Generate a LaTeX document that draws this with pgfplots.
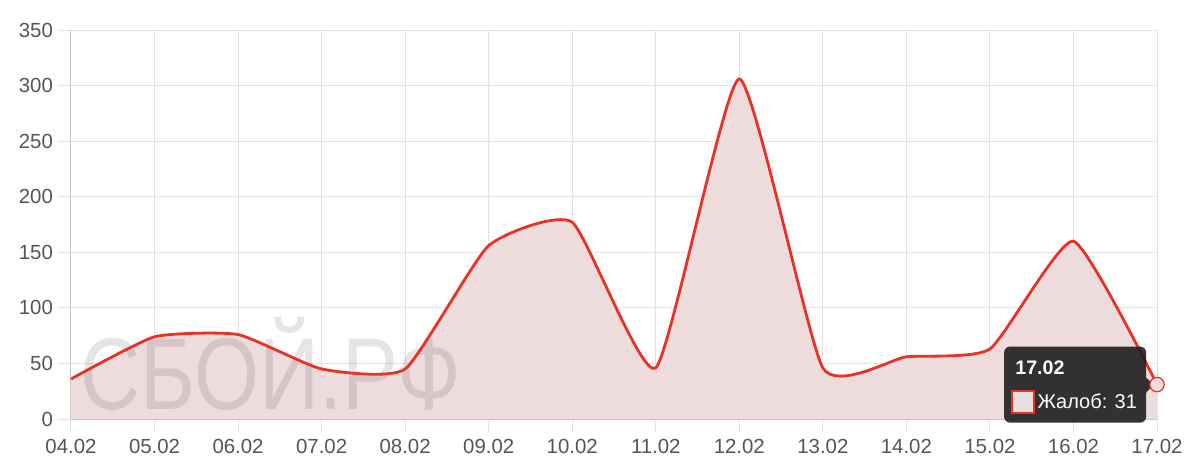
\documentclass[border=0pt]{standalone}
\usepackage{pgfplots}
\pgfplotsset{compat=1.18}
\usepackage{fontspec}
\setmainfont{Liberation Sans}
\definecolor{linec}{RGB}{232,50,38}
\definecolor{fillc}{RGB}{238,220,221}
\definecolor{gridc}{RGB}{226,226,226}
\definecolor{axc}{RGB}{200,200,200}
\definecolor{tickc}{RGB}{85,85,85}
\definecolor{tipc}{RGB}{30,30,30}
\pgfplotstableread{
x y
0 36
1 74
2 76
3 45
4 45
5 156
6 177
7 46
8 306
9 46
10 56
11 63
12 160
13 31
}\datatab
\begin{document}
\begin{tikzpicture}
\begin{axis}[name=ax, scale only axis, width=543pt, height=194.5pt,
 xmin=0, xmax=13, ymin=0, ymax=350,
 axis lines=left, axis line style={draw=axc, line width=0.5pt, -},
 xtick={0,...,13},
 xticklabels={04.02,05.02,06.02,07.02,08.02,09.02,10.02,11.02,12.02,13.02,14.02,15.02,16.02,17.02},
 ytick={0,50,...,350},
 grid=major, major grid style={draw=gridc, line width=0.5pt},
 tick align=outside, major tick length=6.5pt, tick style={draw=gridc, line width=0.5pt},
 ticklabel style={font=\fontsize{10.2}{11}\selectfont, text=tickc},
 yticklabel style={xshift=1pt},
 /pgf/number format/assume math mode=true,
 clip=false,
]
\addplot[draw=none, fill=fillc, smooth, tension=0.3] table[x=x,y=y]{\datatab} \closedcycle;
\node[text=black, text opacity=0.1, font=\fontsize{51}{51}\selectfont, xscale=0.82] at (axis cs:2.39,50) {СБОЙ.РФ};
\addplot[draw=linec, line width=1.4pt, smooth, tension=0.3] table[x=x,y=y]{\datatab};
\addplot[only marks, mark=*, mark size=3.6pt, mark options={draw=linec, fill=fillc, line width=0.6pt}] coordinates {(13,31)};
\fill[tipc, opacity=0.9, rounded corners=3pt] (axis cs:11.17,65.2) rectangle (axis cs:12.87,-3.3);
\fill[tipc, opacity=0.9] (axis cs:12.87,37.2) -- (axis cs:12.96,30.9) -- (axis cs:12.87,23.7) -- cycle;
\node[anchor=base west, inner sep=0pt, text=white, font=\bfseries\fontsize{9.8}{10}\selectfont] at (axis cs:11.30,40) {17.02};
\draw[linec, line width=1pt, fill={rgb,255:red,232;green,222;blue,222}] (axis cs:11.26,25.5) rectangle (axis cs:11.53,5.0);
\node[anchor=base west, inner sep=0pt, text=white, font=\fontsize{10}{10}\selectfont] at (axis cs:11.565,9) {Жалоб: 31};
\end{axis}
\path ([shift={(-35.5pt,-26.5pt)}]ax.south west) rectangle ([shift={(21.5pt,15pt)}]ax.north east);
\end{tikzpicture}
\end{document}
